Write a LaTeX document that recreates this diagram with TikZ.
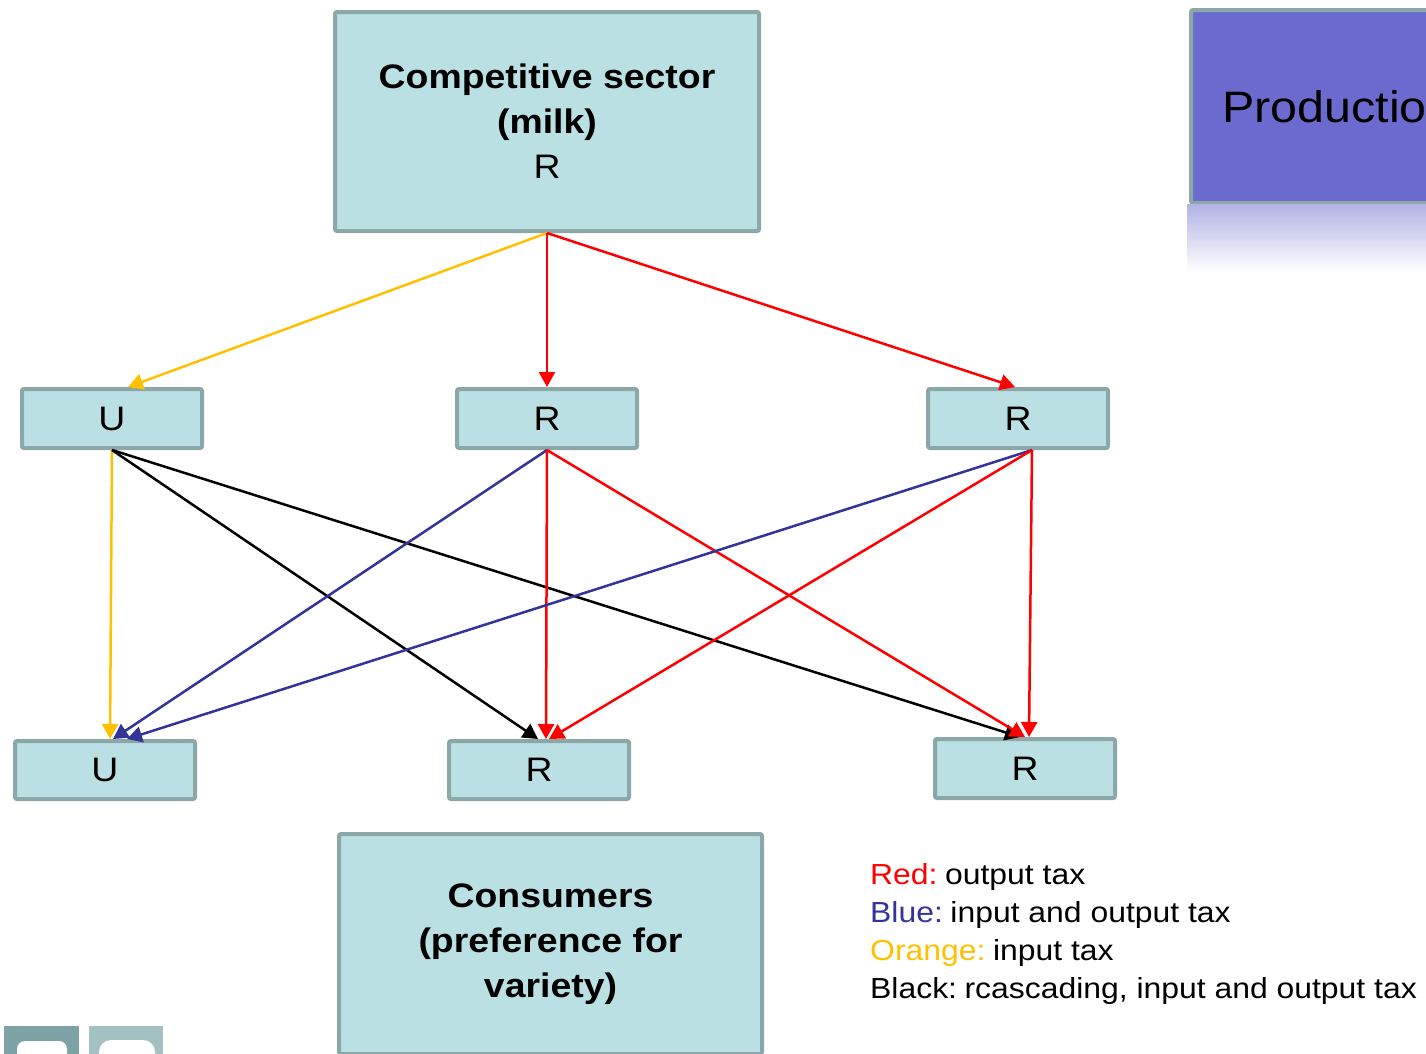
\documentclass[tikz,border=0pt]{standalone}
\usepackage{fontspec}
\setmainfont{Liberation Sans}[FakeStretch=1.1]
\usetikzlibrary{arrows.meta}
\definecolor{boxfill}{HTML}{BAE0E3}
\definecolor{boxborder}{HTML}{8BA7A8}
\definecolor{prodfill}{HTML}{6B6BCF}
\definecolor{reflfill}{HTML}{B2B2E6}
\definecolor{tred}{HTML}{FF0000}
\definecolor{tblue}{HTML}{333399}
\definecolor{torange}{HTML}{FFC000}
\definecolor{logoa}{HTML}{7DA3A6}
\definecolor{logob}{HTML}{A3C1C3}
\newcommand{\lgap}{\hspace{0.26em}}
\tikzset{
  box/.style={draw=boxborder, fill=boxfill, line width=4pt, rounded corners=2pt,
    inner sep=0pt, align=center, font=\fontsize{34}{45}\selectfont},
  smallbox/.style={box, minimum width=180pt, minimum height=59pt},
  conn/.style={line width=2.5pt, -{Triangle[length=15pt,width=16pt]}},
  legend/.style={anchor=base west, inner sep=0pt, font=\fontsize{29}{38}\selectfont}
}
\begin{document}
\begin{tikzpicture}[x=1pt,y=-1pt]
\useasboundingbox (0,0) rectangle (1426,1053);
\clip (0,0) rectangle (1426,1053);
% production box (cut off)
\node[draw=boxborder, fill=prodfill, line width=4pt, rounded corners=2pt,
  minimum width=260pt, minimum height=193pt, anchor=north west, inner sep=0pt] (prod) at (1189,8) {};
\node[anchor=base west, inner sep=0pt, font=\fontsize{44}{50}\selectfont] (prodtext) at (1222,122) {Productio};
\shade[top color=reflfill, bottom color=white] (1187,204) rectangle (1440,272);
% main boxes
\node[box, minimum width=424pt, minimum height=219pt] (top) at (547,121.5)
  {\bfseries Competitive sector\\\bfseries (milk)\\R};
\node[smallbox] (m1) at (112,418.5) {U};
\node[smallbox] (m2) at (547,418.5) {R};
\node[smallbox] (m3) at (1018,418.5) {R};
\node[smallbox, minimum height=58pt] (b1) at (105,770) {U};
\node[smallbox, minimum height=58pt] (b2) at (539,770) {R};
\node[smallbox, minimum height=59pt] (b3) at (1025,768.5) {R};
\node[box, minimum width=423pt, minimum height=220pt] (cons) at (550.5,944)
  {\bfseries Consumers\\\bfseries (preference for\\\bfseries variety)};
% connectors
\draw[conn, torange] (top.south) -- ([xshift=16pt]m1.north);
\draw[conn, tred] (top.south) -- (m2.north);
\draw[conn, tred] (top.south) -- ([xshift=-3pt]m3.north);
\draw[conn, torange] (m1.south) -- ([xshift=5pt]b1.north);
\draw[conn, black] (m1.south) -- ([xshift=-1pt]b2.north);
\draw[conn, black] (m1.south) -- ([xshift=-5pt]b3.north);
\draw[conn, tblue] (m2.south) -- ([xshift=8pt]b1.north);
\draw[conn, tred] (m2.south) -- ([xshift=7pt]b2.north);
\draw[conn, tred] (m2.south) -- (b3.north);
\draw[conn, tblue] ([xshift=14pt]m3.south) -- ([xshift=22pt]b1.north);
\draw[conn, tred] ([xshift=14pt]m3.south) -- ([xshift=10pt]b2.north);
\draw[conn, tred] ([xshift=14pt]m3.south) -- ([xshift=4pt]b3.north);
% legend
\node[legend] (l1) at (870,884) {\textcolor{tred}{Red:}\lgap output tax};
\node[legend] (l2) at (870,922) {\textcolor{tblue}{Blue:}\lgap input and output tax};
\node[legend] (l3) at (870,960) {\textcolor{torange}{Orange:}\lgap input tax};
\node[legend] (l4) at (870,998) {Black:\lgap rcascading, input and output tax};
% logo fragment
\fill[logoa] (4,1026) rectangle (79,1060);
\fill[logob] (89,1026) rectangle (163,1060);
\fill[white, rounded corners=8pt] (17,1041) rectangle (67,1070);
\fill[white, rounded corners=12pt] (99,1040) rectangle (155,1075);
\end{tikzpicture}
\end{document}
